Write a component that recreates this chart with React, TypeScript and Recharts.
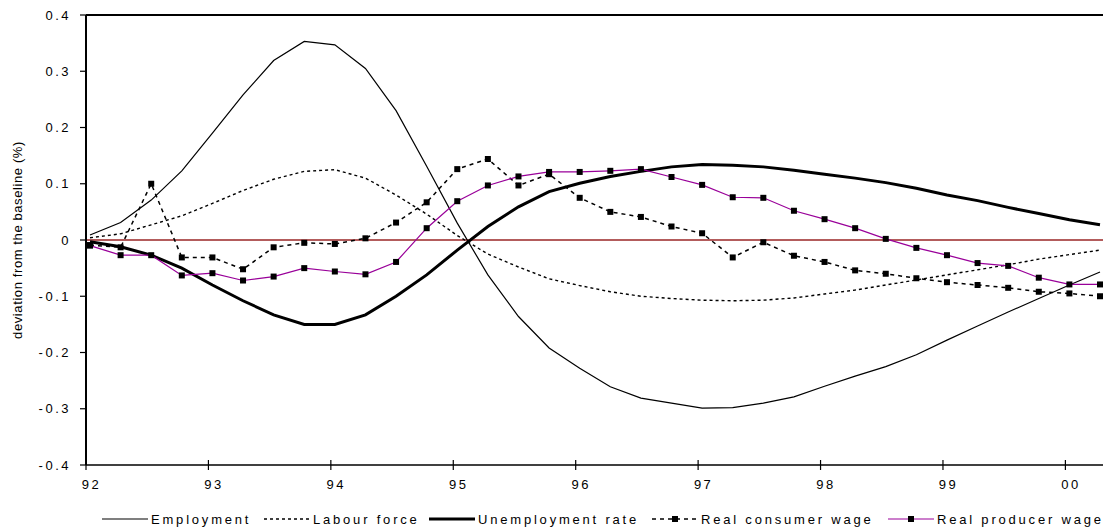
import { LineChart, Line, XAxis, YAxis, ReferenceLine } from 'recharts';

const FONT = '"Liberation Sans", Arial, sans-serif';

// quarterly categories, 92Q1 .. 00Q2
const quarters = [
  '92Q1', '92Q2', '92Q3', '92Q4', '93Q1', '93Q2', '93Q3', '93Q4',
  '94Q1', '94Q2', '94Q3', '94Q4', '95Q1', '95Q2', '95Q3', '95Q4',
  '96Q1', '96Q2', '96Q3', '96Q4', '97Q1', '97Q2', '97Q3', '97Q4',
  '98Q1', '98Q2', '98Q3', '98Q4', '99Q1', '99Q2', '99Q3', '99Q4',
  '00Q1', '00Q2',
];

const employment = [
  0.009, 0.031, 0.071, 0.123, 0.19, 0.258, 0.319, 0.353, 0.347, 0.305, 0.23, 0.131,
  0.03, -0.062, -0.136, -0.192, -0.228, -0.261, -0.281, -0.29, -0.299, -0.298, -0.29,
  -0.279, -0.26, -0.242, -0.225, -0.204, -0.178, -0.153, -0.128, -0.104, -0.08, -0.057,
];

const labourForce = [
  0.004, 0.011, 0.027, 0.043, 0.065, 0.088, 0.108, 0.122, 0.125, 0.11, 0.08, 0.046,
  0.008, -0.025, -0.048, -0.069, -0.081, -0.092, -0.1, -0.104, -0.107, -0.108, -0.107,
  -0.103, -0.096, -0.089, -0.08, -0.071, -0.062, -0.053, -0.044, -0.034, -0.026, -0.018,
];

const unemploymentRate = [
  -0.003, -0.012, -0.027, -0.05, -0.08, -0.108, -0.133, -0.15, -0.15, -0.133, -0.1, -0.062,
  -0.018, 0.024, 0.059, 0.086, 0.101, 0.113, 0.122, 0.13, 0.134, 0.133, 0.13,
  0.124, 0.117, 0.11, 0.102, 0.092, 0.08, 0.07, 0.058, 0.047, 0.036, 0.027,
];

const consumerWage = [
  -0.009, -0.013, 0.1, -0.031, -0.031, -0.052, -0.013, -0.005, -0.007, 0.003, 0.031, 0.067,
  0.126, 0.144, 0.097, 0.117, 0.075, 0.05, 0.041, 0.024, 0.012, -0.031, -0.004,
  -0.028, -0.039, -0.054, -0.06, -0.068, -0.075, -0.08, -0.085, -0.092, -0.095, -0.1,
];

const producerWage = [
  -0.01, -0.027, -0.027, -0.063, -0.059, -0.072, -0.065, -0.05, -0.056, -0.061, -0.039, 0.021,
  0.069, 0.097, 0.113, 0.121, 0.121, 0.123, 0.126, 0.112, 0.098, 0.076, 0.075,
  0.052, 0.037, 0.021, 0.002, -0.014, -0.027, -0.041, -0.046, -0.067, -0.079, -0.079,
];

const yTicks = [-0.4, -0.3, -0.2, -0.1, 0, 0.1, 0.2, 0.3, 0.4];

const chartData = quarters.map((q, i) => ({
  q,
  employment: employment[i],
  labourForce: labourForce[i],
  unemploymentRate: unemploymentRate[i],
  consumerWage: consumerWage[i],
  producerWage: producerWage[i],
}));

const SquareDot = (props: any) => {
  const { cx, cy, index } = props;
  if (cx == null || cy == null) return <g key={`d-${index}`} />;
  return <rect key={`d-${index}`} x={cx - 3} y={cy - 3} width={6} height={6} fill="#000" />;
};

const XTick = (props: any) => {
  const { x, y, payload } = props;
  const label: string = payload.value;
  if (!label.endsWith('Q1')) return <g />;
  return (
    <g>
      <line x1={x - 4} x2={x - 4} y1={y - 5} y2={y + 5} stroke="#000" strokeWidth={1.2} />
      <text
        x={x + 1.5}
        y={y + 24}
        textAnchor="middle"
        fill="#000"
        style={{ fontSize: 13, letterSpacing: '2.5px', fontFamily: FONT }}
      >
        {label.slice(0, 2)}
      </text>
    </g>
  );
};

const YTick = (props: any) => {
  const { x, y, payload } = props;
  const v: number = payload.value;
  const txt = Math.abs(v) < 1e-9 ? '0' : v.toFixed(1);
  return (
    <text
      x={x}
      y={y}
      dy={4.5}
      textAnchor="end"
      fill="#000"
      style={{ fontSize: 13, letterSpacing: '2.5px', fontFamily: FONT }}
    >
      {txt}
    </text>
  );
};

const legendItems = [
  { name: 'Employment', left: 102, stroke: '#000', width: 1.2, dash: undefined, marker: false },
  { name: 'Labour force', left: 264, stroke: '#000', width: 1.4, dash: '3 3', marker: false },
  { name: 'Unemployment rate', left: 429, stroke: '#000', width: 3, dash: undefined, marker: false },
  { name: 'Real consumer wage', left: 652, stroke: '#000', width: 1.5, dash: '4 4', marker: true },
  { name: 'Real producer wage', left: 888, stroke: '#990099', width: 1.2, dash: undefined, marker: true },
];

const renderLegend = () => (
  <div style={{ position: 'absolute', left: 0, top: 510, width: 1104, height: 18 }}>
    {legendItems.map((item) => (
      <div
        key={item.name}
        style={{ position: 'absolute', left: item.left, top: 0, display: 'flex', alignItems: 'center', height: 18 }}
      >
        <svg width={46} height={10} style={{ display: 'block' }}>
          <line x1={0} x2={46} y1={5} y2={5} stroke={item.stroke} strokeWidth={item.width} strokeDasharray={item.dash} />
          {item.marker && <rect x={20} y={2} width={6} height={6} fill="#000" />}
        </svg>
        <span
          style={{
            marginLeft: 3,
            fontFamily: FONT,
            fontSize: 13,
            letterSpacing: '2.8px',
            color: '#000',
            whiteSpace: 'nowrap',
          }}
        >
          {item.name}
        </span>
      </div>
    ))}
  </div>
);

export default function App() {
  return (
    <div style={{ position: 'absolute', left: 0, top: 0, width: 1104, height: 529, background: '#fff', overflow: 'hidden' }}>
      <LineChart
        width={1104}
        height={529}
        data={chartData}
        margin={{ top: 15, right: 1, bottom: 34, left: 0 }}
      >
        <XAxis
          dataKey="q"
          interval={0}
          tick={<XTick />}
          tickLine={false}
          tickSize={0}
          tickMargin={0}
          height={30}
          padding={{ left: 4, right: 3 }}
          axisLine={{ stroke: '#000', strokeWidth: 1.5 }}
        />
        <YAxis
          width={86}
          domain={[-0.4, 0.4]}
          ticks={yTicks}
          interval={0}
          tick={<YTick />}
          tickSize={6}
          tickMargin={9}
          tickLine={{ stroke: '#000', strokeWidth: 1.2 }}
          axisLine={{ stroke: '#000', strokeWidth: 2 }}
          label={{
            value: 'deviation from the baseline (%)',
            angle: -90,
            position: 'center',
            dx: -26,
            style: { fontSize: 13, letterSpacing: '0.6px', fontFamily: FONT, fill: '#000' },
          }}
        />
        <ReferenceLine y={0.4} stroke="#000" strokeWidth={2} ifOverflow="extendDomain" />
        <ReferenceLine y={0} stroke="#b35c5c" strokeWidth={2} />
        <Line
          dataKey="employment"
          stroke="#000"
          strokeWidth={1.2}
          dot={false}
          isAnimationActive={false}
        />
        <Line
          dataKey="labourForce"
          stroke="#000"
          strokeWidth={1.4}
          strokeDasharray="3 3"
          dot={false}
          isAnimationActive={false}
        />
        <Line
          dataKey="unemploymentRate"
          stroke="#000"
          strokeWidth={3}
          dot={false}
          isAnimationActive={false}
        />
        <Line
          dataKey="consumerWage"
          stroke="#000"
          strokeWidth={1.5}
          strokeDasharray="4 4"
          dot={<SquareDot />}
          isAnimationActive={false}
        />
        <Line
          dataKey="producerWage"
          stroke="#990099"
          strokeWidth={1.2}
          dot={<SquareDot />}
          isAnimationActive={false}
        />
      </LineChart>
      {renderLegend()}
    </div>
  );
}
